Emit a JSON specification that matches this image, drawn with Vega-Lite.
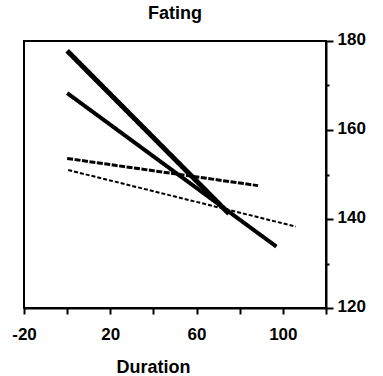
{
  "$schema": "https://vega.github.io/schema/vega-lite/v6.json",
  "width": 302,
  "height": 267,
  "autosize": {"type": "none"},
  "padding": {"left": 24, "top": 41, "right": 57, "bottom": 68},
  "background": "white",
  "title": {"text": "Fating", "fontSize": 18, "font": "Liberation Sans", "fontWeight": "bold", "color": "black", "offset": 7},
  "config": {
    "view": {"stroke": "black", "strokeWidth": 2},
    "axis": {"labelFont": "Liberation Sans", "titleFont": "Liberation Sans", "labelColor": "black", "titleColor": "black", "domainColor": "black", "tickColor": "black", "grid": false}
  },
  "data": {"values": [
    {"series": "A", "duration": 0, "value": 177.8},
    {"series": "A", "duration": 75, "value": 141.2},
    {"series": "B", "duration": 0, "value": 168.3},
    {"series": "B", "duration": 97, "value": 133.8},
    {"series": "C", "duration": 0, "value": 153.6},
    {"series": "C", "duration": 88.5, "value": 147.5},
    {"series": "D", "duration": 0.5, "value": 151.0},
    {"series": "D", "duration": 106, "value": 138.3}
  ]},
  "mark": {"type": "line", "color": "black", "strokeCap": "butt"},
  "encoding": {
    "x": {"field": "duration", "type": "quantitative", "scale": {"domain": [-20, 120], "nice": false, "zero": false},
      "axis": {"title": "Duration", "titleFontSize": 18, "titleFontWeight": "bold", "titleX": 129, "titleY": 64, "titleBaseline": "alphabetic",
        "values": [-20, 0, 20, 40, 60, 80, 100, 120],
        "labelExpr": "(datum.value === -20 || datum.value === 20 || datum.value === 60 || datum.value === 100) ? replace(datum.label, '−', '-') : ''",
        "labelFontSize": 17, "labelFontWeight": "bold", "labelPadding": 12, "tickSize": 6, "tickWidth": 2, "domainWidth": 2, "labelFlush": false}},
    "y": {"field": "value", "type": "quantitative", "scale": {"domain": [120, 180], "nice": false, "zero": false},
      "axis": {"orient": "right", "title": null,
        "values": [120, 130, 140, 150, 160, 170, 180],
        "labelExpr": "(datum.value % 20 === 0) ? datum.label : ''",
        "labelFontSize": 17, "labelFontWeight": "bold", "labelPadding": 4, "labelOffset": -2,
        "tickSize": {"condition": {"test": "datum.value % 20 === 0", "value": 7}, "value": 3},
        "tickWidth": 2, "domainWidth": 2, "labelFlush": false}},
    "detail": {"field": "series"},
    "strokeWidth": {"field": "series", "type": "nominal", "scale": {"domain": ["A", "B", "C", "D"], "range": [5, 2, 4, 2]}, "legend": null},
    "strokeDash": {"field": "series", "type": "nominal", "scale": {"domain": ["A", "B", "C", "D"], "range": [[1, 0], [1, 0], [6, 1.5], [4, 2]]}, "legend": null}
  }
}
